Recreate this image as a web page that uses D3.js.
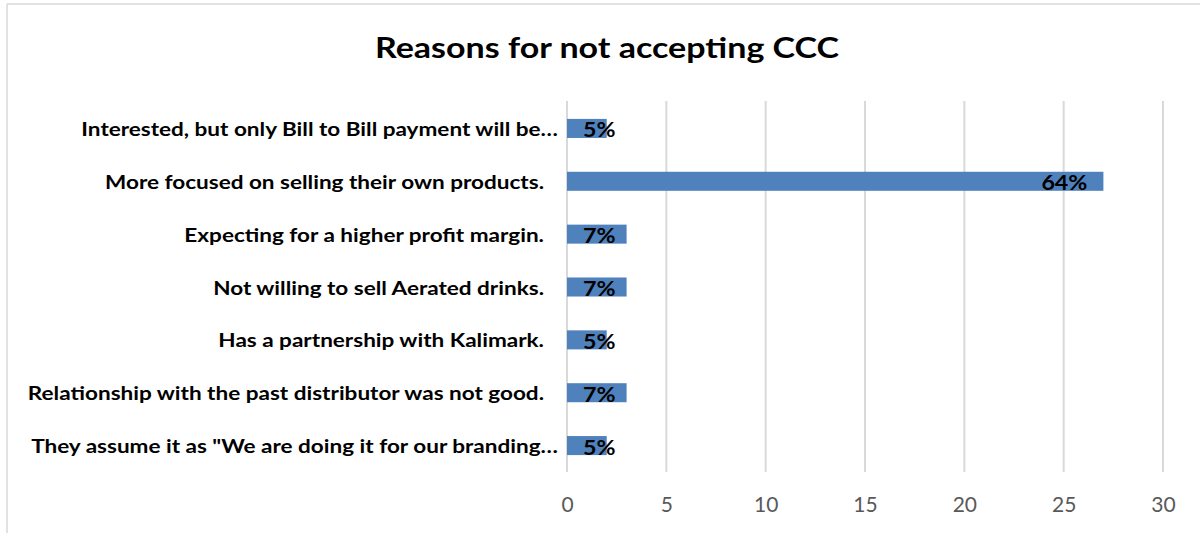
<!DOCTYPE html>
<html>
<head>
<meta charset="utf-8">
<script src="https://cdn.jsdelivr.net/npm/d3@7"></script>
<style>
  html, body { margin: 0; padding: 0; background: #fff; }
  svg { display: block; }
</style>
</head>
<body>
<svg id="chart" width="1200" height="533"></svg>
<script>
const categories = [
  "Interested, but only Bill to Bill payment will be…",
  "More focused on selling their own products.",
  "Expecting for a higher profit margin.",
  "Not willing to sell Aerated drinks.",
  "Has a partnership with Kalimark.",
  "Relationship with the past distributor was not good.",
  "They assume it as \"We are doing it for our branding…"
];
const counts = [2, 27, 3, 3, 2, 3, 2];
const percentLabels = ["5%", "64%", "7%", "7%", "5%", "7%", "5%"];
const xTicks = [0, 5, 10, 15, 20, 25, 30];
const title = "Reasons for not accepting CCC";

const svg = d3.select("#chart");
const W = 1200, H = 533;
const FONT = "Lato, 'Open Sans', sans-serif";

// chart frame (light border on top and left)
svg.append("line").attr("x1", 7).attr("x2", W).attr("y1", 4).attr("y2", 4)
  .attr("stroke", "#d9d9d9").attr("stroke-width", 1.5);
svg.append("line").attr("x1", 7).attr("x2", 7).attr("y1", 4).attr("y2", H)
  .attr("stroke", "#d9d9d9").attr("stroke-width", 1.5);

const plot = { left: 567, right: 1163, top: 102, bottom: 472 };

const x = d3.scaleLinear().domain([0, 30]).range([plot.left, plot.right]);
const y = d3.scaleBand().domain(categories).range([plot.top, plot.bottom])
  .paddingInner(0.64).paddingOuter(0.32);

// natural width of a string in a given font
function measure(text, weight, size) {
  const t = svg.append("text").attr("font-family", FONT).attr("font-weight", weight)
    .attr("font-size", size).text(text);
  const w = t.node().getComputedTextLength();
  t.remove();
  return w;
}

// title
const titleSize = 28.5;
svg.append("text")
  .attr("x", 607 - 232).attr("y", 58)
  .attr("font-family", FONT).attr("font-weight", 700)
  .attr("font-size", titleSize).attr("fill", "#000")
  .attr("textLength", 464).attr("lengthAdjust", "spacingAndGlyphs")
  .text(title);

// gridlines
const grid = svg.append("g");
grid.selectAll("line").data(xTicks).join("line")
  .attr("x1", d => x(d)).attr("x2", d => x(d))
  .attr("y1", plot.top - 1).attr("y2", plot.bottom)
  .attr("stroke", "#d9d9d9").attr("stroke-width", 2);

// x axis tick labels
const xAxis = d3.axisBottom(x).tickValues(xTicks).tickSize(0).tickPadding(0);
const gx = svg.append("g").attr("transform", `translate(0, 512)`).call(xAxis);
gx.select(".domain").remove();
gx.selectAll("text")
  .attr("font-family", FONT).attr("font-size", 21).attr("fill", "#595959")
  .attr("dy", 0).attr("y", 0);

// bars
svg.append("g").selectAll("rect").data(categories).join("rect")
  .attr("x", x(0))
  .attr("y", d => y(d))
  .attr("width", (d, i) => x(counts[i]) - x(0))
  .attr("height", y.bandwidth())
  .attr("fill", "#4f81bd");

// category labels
const catSize = 19.5;
const catRatio = 439 / measure("More focused on selling their own products.", 700, catSize);
svg.append("g").selectAll("text").data(categories).join("text")
  .attr("x", d => d.endsWith("…") ? 558 : 544)
  .attr("y", d => y(d) + y.bandwidth() / 2 + 7.5)
  .attr("text-anchor", "end")
  .attr("font-family", FONT).attr("font-weight", 700)
  .attr("font-size", catSize).attr("fill", "#000")
  .attr("textLength", d => measure(d, 700, catSize) * catRatio)
  .attr("lengthAdjust", "spacingAndGlyphs")
  .text(d => d);

// data labels
const lblSize = 21;
const lblRatio = 46 / measure("64%", 700, lblSize);
const lbl = svg.append("g").selectAll("text").data(categories).join("text")
  .attr("y", d => y(d) + y.bandwidth() / 2 + 9)
  .attr("text-anchor", "end")
  .attr("font-family", FONT).attr("font-weight", 700)
  .attr("font-size", lblSize).attr("fill", "#000")
  .attr("textLength", (d, i) => measure(percentLabels[i], 700, lblSize) * lblRatio)
  .attr("lengthAdjust", "spacingAndGlyphs")
  .text((d, i) => percentLabels[i]);
lbl.each(function(d, i) {
  const w = measure(percentLabels[i], 700, lblSize) * lblRatio;
  const xr = Math.max(x(counts[i]) - 16, x(0) + 16 + w);
  d3.select(this).attr("x", xr);
});
</script>
</body>
</html>
